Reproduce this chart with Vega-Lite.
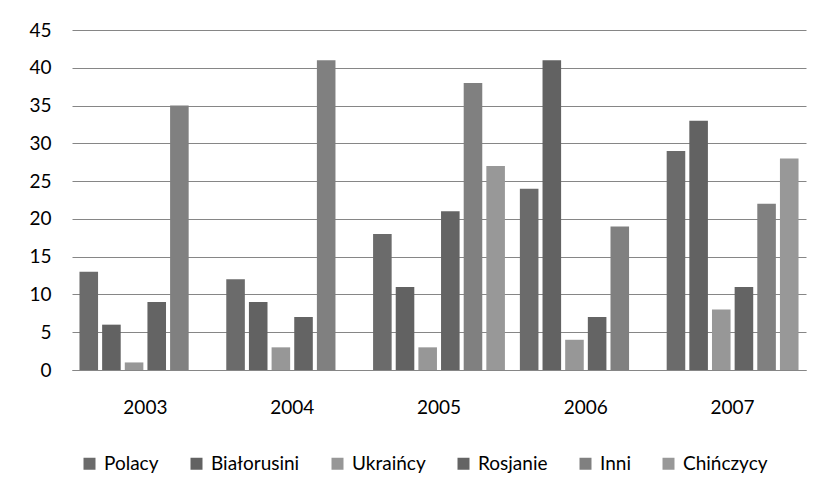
{
  "$schema": "https://vega.github.io/schema/vega-lite/v6.json",
  "width": 734,
  "height": 340,
  "autosize": "none",
  "padding": {"left": 72, "top": 30, "right": 19, "bottom": 129},
  "background": "white",
  "data": {
    "values": [
      {"rok": "2003", "grupa": "Polacy", "liczba": 13},
      {"rok": "2003", "grupa": "Białorusini", "liczba": 6},
      {"rok": "2003", "grupa": "Ukraińcy", "liczba": 1},
      {"rok": "2003", "grupa": "Rosjanie", "liczba": 9},
      {"rok": "2003", "grupa": "Inni", "liczba": 35},
      {"rok": "2004", "grupa": "Polacy", "liczba": 12},
      {"rok": "2004", "grupa": "Białorusini", "liczba": 9},
      {"rok": "2004", "grupa": "Ukraińcy", "liczba": 3},
      {"rok": "2004", "grupa": "Rosjanie", "liczba": 7},
      {"rok": "2004", "grupa": "Inni", "liczba": 41},
      {"rok": "2005", "grupa": "Polacy", "liczba": 18},
      {"rok": "2005", "grupa": "Białorusini", "liczba": 11},
      {"rok": "2005", "grupa": "Ukraińcy", "liczba": 3},
      {"rok": "2005", "grupa": "Rosjanie", "liczba": 21},
      {"rok": "2005", "grupa": "Inni", "liczba": 38},
      {"rok": "2005", "grupa": "Chińczycy", "liczba": 27},
      {"rok": "2006", "grupa": "Polacy", "liczba": 24},
      {"rok": "2006", "grupa": "Białorusini", "liczba": 41},
      {"rok": "2006", "grupa": "Ukraińcy", "liczba": 4},
      {"rok": "2006", "grupa": "Rosjanie", "liczba": 7},
      {"rok": "2006", "grupa": "Inni", "liczba": 19},
      {"rok": "2007", "grupa": "Polacy", "liczba": 29},
      {"rok": "2007", "grupa": "Białorusini", "liczba": 33},
      {"rok": "2007", "grupa": "Ukraińcy", "liczba": 8},
      {"rok": "2007", "grupa": "Rosjanie", "liczba": 11},
      {"rok": "2007", "grupa": "Inni", "liczba": 22},
      {"rok": "2007", "grupa": "Chińczycy", "liczba": 28}
    ]
  },
  "mark": {"type": "bar"},
  "encoding": {
    "x": {
      "field": "rok",
      "type": "nominal",
      "title": null,
      "scale": {"paddingInner": 0, "paddingOuter": 0},
      "axis": {
        "labelAngle": 0,
        "domain": true,
        "domainColor": "#868686",
        "domainWidth": 1,
        "ticks": false,
        "grid": false,
        "labelFont": "Lato",
        "labelFontSize": 19,
        "labelColor": "#000000",
        "labelPadding": 28
      }
    },
    "xOffset": {
      "field": "grupa",
      "type": "nominal",
      "scale": {
        "domain": ["Polacy", "Białorusini", "Ukraińcy", "Rosjanie", "Inni", "Chińczycy"],
        "paddingInner": 0.18,
        "paddingOuter": 0.33
      }
    },
    "y": {
      "field": "liczba",
      "type": "quantitative",
      "title": null,
      "scale": {"domain": [0, 45], "nice": false},
      "axis": {
        "values": [0, 5, 10, 15, 20, 25, 30, 35, 40, 45],
        "domain": false,
        "ticks": false,
        "grid": true,
        "gridColor": "#868686",
        "gridWidth": 1,
        "labelFont": "Lato",
        "labelFontSize": 19,
        "labelColor": "#000000",
        "labelPadding": 21
      }
    },
    "color": {
      "field": "grupa",
      "type": "nominal",
      "scale": {
        "domain": ["Polacy", "Białorusini", "Ukraińcy", "Rosjanie", "Inni", "Chińczycy"],
        "range": ["#6b6b6b", "#626262", "#979797", "#646464", "#808080", "#989898"]
      },
      "legend": {
        "title": null,
        "orient": "none",
        "direction": "horizontal",
        "legendX": 8,
        "legendY": 424,
        "symbolType": "square",
        "symbolSize": 144,
        "symbolStrokeWidth": 0,
        "labelFont": "Lato",
        "labelFontSize": 19,
        "labelColor": "#000000",
        "labelOffset": 5,
        "columnPadding": 28,
        "padding": 0
      }
    }
  },
  "config": {"view": {"stroke": null}}
}
